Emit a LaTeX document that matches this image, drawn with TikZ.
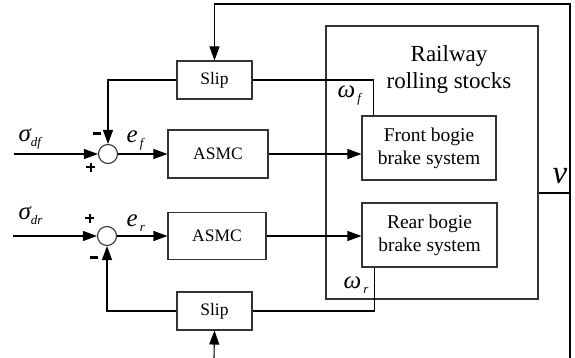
\documentclass[tikz,border=0pt]{standalone}
\usepackage{fontspec}
\setmainfont{Liberation Serif}
\usetikzlibrary{arrows.meta,calc}
\newcommand\mysym[2]{{\fontsize{25}{25}\selectfont\itshape #1}\raisebox{-5pt}{\fontsize{13}{13}\selectfont\itshape #2}}
\newcommand\mymin{\rule[3pt]{8pt}{2.4pt}}
\newcommand\myplus{\rule[0pt]{9pt}{2pt}\hspace{-5.5pt}\rule[-3.5pt]{2pt}{9pt}\hspace{3.5pt}}
\begin{document}
\begin{tikzpicture}[x=1pt,y=-1pt,line width=1.1pt,
  box/.style={draw=black!80,inner sep=0pt,align=center},
  sumnode/.style={draw=black!80,circle,minimum size=19pt,inner sep=0pt},
  arr/.style={-{Triangle[length=14pt,width=10pt]}},
  small/.style={font=\fontsize{17.5}{20}\selectfont},
  mid/.style={font=\fontsize{19.5}{23}\selectfont},
  lbl/.style={inner sep=0pt}]
\useasboundingbox (0,0) rectangle (575,358);
% blocks
\node[box,small,minimum width=75pt,minimum height=38pt] (slip1) at (214.5,80) {Slip};
\node[sumnode] (c1) at (108,154) {};
\node[box,small,minimum width=100pt,minimum height=48pt] (asmc1) at (218,154) {ASMC};
\node[box,minimum width=212pt,minimum height=273pt] (rail) at (432,162.5) {};
\node[lbl,font=\fontsize{23}{27}\selectfont,align=center] (railtxt) at (449,70) {Railway\\rolling stocks};
\node[box,mid,minimum width=134pt,minimum height=64pt] (front) at (429,148) {Front bogie\\brake system};
\node[box,mid,minimum width=135pt,minimum height=64pt] (rear) at (429.5,235) {Rear bogie\\brake system};
\node[sumnode] (c2) at (107,236) {};
\node[box,small,minimum width=98pt,minimum height=47pt] (asmc2) at (217,236) {ASMC};
\node[box,small,minimum width=75pt,minimum height=38pt] (slip2) at (214.5,311) {Slip};
% free ends
\coordinate (in1) at (14,154);
\coordinate (in2) at (13,236);
\coordinate (tr) at (570,4);
\coordinate (br) at (570,358);
\coordinate (vout) at (570,193);
\coordinate (bot) at (214,358);
% connectors
\draw[arr] (in1) -- (c1);
\draw[arr] (slip1.west) -| (c1.north);
\draw[arr] (c1) -- (asmc1);
\draw[arr] (asmc1.east) -- (asmc1.east -| front.west);
\draw (slip1.east) -| ($(front.north west)+(12,0)$);
\draw[arr] (br) -- (tr) -| (slip1.north);
\draw (rail.east |- vout) -- (vout);
\draw[arr] (in2) -- (c2);
\draw[arr] (c2) -- (asmc2);
\draw[arr] (asmc2.east) -- (asmc2.east -| rear.west);
\draw ($(rear.south west)+(13,0)$) |- (slip2.east);
\draw[arr] (slip2.west) -| (c2.south);
\draw[arr] (bot) -- (slip2.south);
% labels
\node[lbl,anchor=base west] (sdf) at (18,142) {\mysym{σ}{df}};
\node[lbl,anchor=base west] (sdr) at (18,219) {\mysym{σ}{dr}};
\node[lbl,anchor=base west] (ef) at (126,143) {\mysym{e}{\,f}};
\node[lbl,anchor=base west] (er) at (126,226) {\mysym{e}{\,r}};
\node[lbl,anchor=base west] (wf) at (337,98) {\mysym{ω}{\,f}};
\node[lbl,anchor=base west] (wr) at (343,288) {\mysym{ω}{\,r}};
\node[lbl,anchor=base,font=\fontsize{33}{33}\selectfont\itshape] (v) at (560,183) {v};
\node[lbl] (m1) at (97,135) {\mymin};
\node[lbl] (p1) at (89,167) {\myplus};
\node[lbl] (p2) at (88,218) {\myplus};
\node[lbl] (m2) at (94,259) {\mymin};
\end{tikzpicture}
\end{document}
